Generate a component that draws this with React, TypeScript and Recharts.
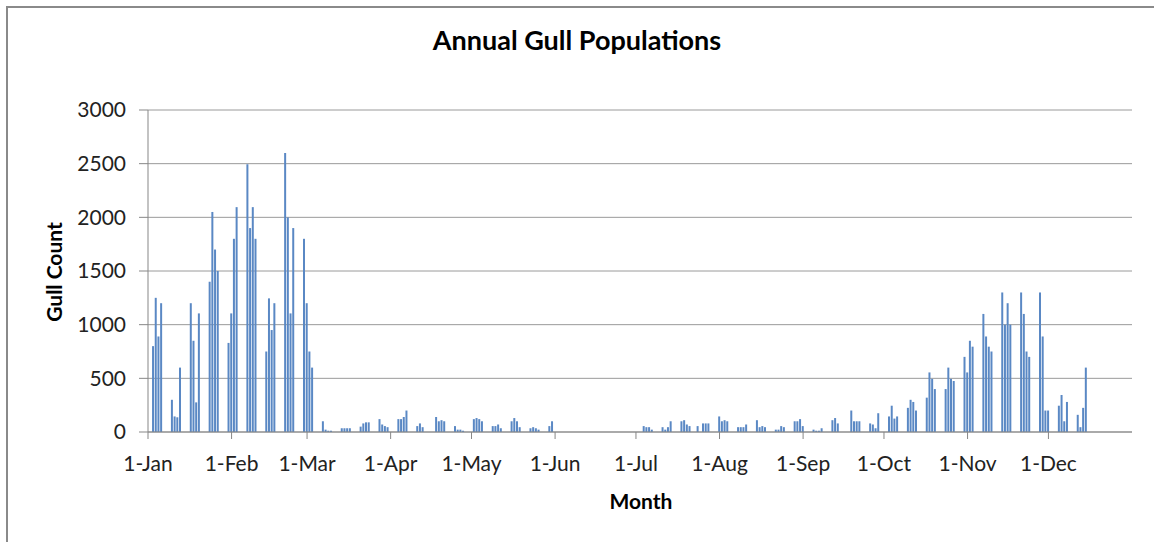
import React from 'react';
import { BarChart, Bar, XAxis, YAxis, CartesianGrid } from 'recharts';

// Survey weeks: day of year (0 = 1-Jan) of the first count in each week
const weekStarts = [
  2, 9, 16, 23, 30, 37, 44, 51, 58, 65, 72, 79, 86, 93, 100, 107, 114, 121, 128, 135, 142, 149,
  184, 191, 198, 204, 212, 219, 226, 233, 240, 247, 254, 261, 268, 275, 282, 289, 296, 303, 310,
  317, 324, 331, 338, 345,
];

// Daily gull counts for consecutive days of each survey week (0 = no count)
const weeklyCounts = [
  [800, 1250, 890, 1200],
  [300, 145, 137, 600],
  [1200, 850, 276, 1105],
  [1400, 2050, 1700, 1500],
  [830, 1105, 1800, 2095],
  [2495, 1900, 2095, 1800],
  [750, 1245, 950, 1200],
  [2600, 2000, 1105, 1900],
  [1800, 1200, 750, 600],
  [100, 22, 12, 12],
  [35, 35, 35, 35],
  [50, 80, 90, 90],
  [120, 70, 55, 45],
  [120, 120, 140, 200],
  [55, 80, 45, 0],
  [140, 100, 110, 100],
  [55, 22, 22, 12],
  [120, 130, 120, 100],
  [55, 55, 70, 35],
  [100, 130, 100, 45],
  [35, 45, 35, 22],
  [55, 100],
  [55, 45, 45, 22],
  [45, 22, 45, 100],
  [100, 110, 70, 55],
  [55, 0, 80, 80, 80],
  [145, 100, 110, 100],
  [45, 45, 45, 70],
  [110, 45, 55, 45],
  [22, 22, 55, 45],
  [100, 100, 120, 55],
  [22, 12, 12, 35],
  [110, 130, 80],
  [200, 100, 100, 100],
  [80, 70, 35, 175],
  [145, 245, 125, 145],
  [225, 300, 280, 200],
  [320, 555, 495, 400],
  [400, 600, 495, 475],
  [700, 555, 850, 795],
  [1100, 890, 795, 750],
  [1300, 1000, 1200, 1000],
  [1300, 1100, 750, 700],
  [1300, 890, 200, 200],
  [245, 345, 100, 280],
  [160, 45, 225, 600],
];

const monthStarts = [0, 31, 59, 90, 120, 151, 181, 212, 243, 273, 304, 334];
const monthLabels = ['1-Jan', '1-Feb', '1-Mar', '1-Apr', '1-May', '1-Jun', '1-Jul', '1-Aug', '1-Sep', '1-Oct', '1-Nov', '1-Dec'];
const yTicks = [0, 500, 1000, 1500, 2000, 2500, 3000];

const data: { day: number; count: number }[] = [];
weekStarts.forEach((start, i) => {
  weeklyCounts[i].forEach((count, j) => {
    if (count > 0) data.push({ day: start + j, count });
  });
});

const FONT = 'Lato, "Noto Sans", sans-serif';
const AXIS = '#878787';

export default function App() {
  return (
    <div
      style={{
        position: 'absolute',
        left: 0,
        top: 0,
        width: 1154,
        height: 542,
        overflow: 'hidden',
        background: '#fff',
        fontFamily: FONT,
      }}
    >
      {/* chart frame, runs off the right and bottom edges */}
      <div
        style={{
          position: 'absolute',
          left: 6,
          top: 6,
          width: 1200,
          height: 600,
          border: '2px solid #8a8a8a',
        }}
      />
      <div
        style={{
          position: 'absolute',
          left: 577,
          top: 23,
          transform: 'translateX(-50%)',
          whiteSpace: 'nowrap',
          fontWeight: 700,
          fontSize: 27,
          color: '#000',
        }}
      >
        Annual Gull Populations
      </div>
      <div
        style={{
          position: 'absolute',
          left: 53,
          top: 272,
          transform: 'translate(-50%, -50%) rotate(-90deg)',
          fontWeight: 700,
          fontSize: 21,
          whiteSpace: 'nowrap',
          color: '#000',
        }}
      >
        Gull Count
      </div>
      <div
        style={{
          position: 'absolute',
          left: 641,
          top: 500,
          transform: 'translate(-50%, -50%)',
          fontWeight: 700,
          fontSize: 21,
          whiteSpace: 'nowrap',
          color: '#000',
        }}
      >
        Month
      </div>
      <div style={{ position: 'absolute', left: 0, top: 0 }}>
        <BarChart
          width={1154}
          height={542}
          data={data}
          margin={{ top: 110, right: 22, left: 0, bottom: 70 }}
        >
          <CartesianGrid horizontal vertical={false} stroke="#9a9a9a" />
          <XAxis
            type="number"
            dataKey="day"
            domain={[0, 365]}
            ticks={monthStarts}
            tickFormatter={(v) => monthLabels[monthStarts.indexOf(v)] ?? ''}
            interval={0}
            height={40}
            stroke={AXIS}
            tickSize={7}
            tickMargin={17}
            tick={{ fill: '#222', fontSize: 21, fontFamily: FONT }}
            allowDecimals={false}
          />
          <YAxis
            type="number"
            domain={[0, 3000]}
            ticks={yTicks}
            interval={0}
            width={148}
            stroke={AXIS}
            tickSize={9}
            tickMargin={13}
            tick={{ fill: '#222', fontSize: 21, fontFamily: FONT }}
          />
          <Bar dataKey="count" fill="#5a88c4" barSize={2} isAnimationActive={false} />
        </BarChart>
      </div>
    </div>
  );
}
